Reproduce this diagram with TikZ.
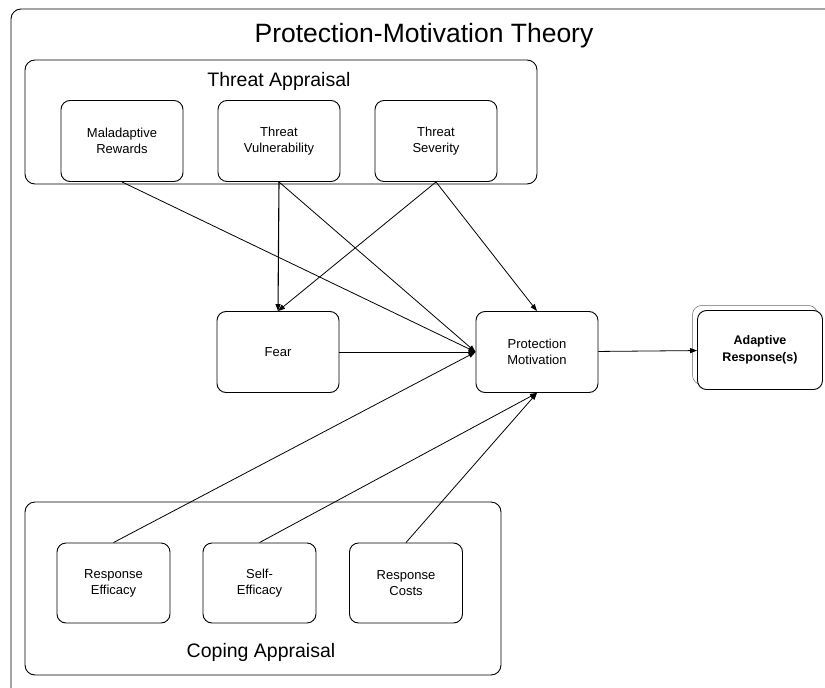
\documentclass[tikz,border=0pt]{standalone}
\usepackage{fontspec}
\setmainfont{Liberation Sans}
\usetikzlibrary{arrows.meta,positioning}

\begin{document}
\begin{tikzpicture}[x=1pt,y=-1pt,
    every node/.style={font=\fontsize{13}{16}\selectfont},
    panel/.style={draw,rounded corners=10pt,line width=0.9pt},
    factor/.style={draw,rounded corners=9pt,line width=0.9pt,align=center,
      minimum width=122pt,minimum height=81pt,inner sep=2pt},
    coping/.style={factor,minimum width=113pt,minimum height=80pt},
    link/.style={-{Triangle[length=7pt,width=5pt]},line width=0.8pt}]

  \useasboundingbox (0,0) rectangle (825,688);

  %% Outer frame and title
  \draw[rounded corners=10pt,line width=0.9pt] (11,720) -- (11,9) -- (860,9);
  \node[font=\fontsize{26.5}{30}\selectfont] (title) at (424,36) {Protection-Motivation Theory};

  %% Threat appraisal
  \node[panel,minimum width=512pt,minimum height=124pt] (threat) at (281,122) {};
  \node[font=\fontsize{19.5}{23}\selectfont] (threatlbl) at (279,81) {Threat Appraisal};
  \node[factor] (malad) at (122,141) {Maladaptive\\Rewards};
  \node[factor] (vuln)  at (279,141) {Threat\\Vulnerability};
  \node[factor] (sev)   at (436,141) {Threat\\Severity};

  %% Middle row
  \node[factor] (fear)    at (278,352) {Fear};
  \node[factor] (protect) at (537,352) {Protection\\Motivation};
  \node[factor,draw=black!60,line width=0.5pt,minimum width=125pt,minimum height=79pt] (adaptbk) at (755,345) {};
  \node[factor,fill=white,minimum width=125pt,minimum height=79pt,font=\fontsize{12.5}{16.5}\selectfont\bfseries] (adapt) at (760,350) {Adaptive\\Response(s)};

  %% Coping appraisal
  \node[panel,minimum width=476pt,minimum height=173pt] (cope) at (263,588.5) {};
  \node[font=\fontsize{19.5}{23}\selectfont] (copelbl) at (261,652) {Coping Appraisal};
  \node[coping] (reseff)  at (113.5,583) {Response\\Efficacy};
  \node[coping] (selfeff) at (259.5,583) {Self-\\Efficacy};
  \node[coping] (rescost) at (406,583) {Response\\Costs};

  %% Connectors
  \draw[link,line width=1.1pt] (vuln.south) -- (fear.north);
  \draw[link] (sev.south) -- (fear.north);
  \draw[link] (sev.south) -- (protect.north);
  \draw[link] (malad.south) -- (protect.west);
  \draw[link] (vuln.south) -- (protect.west);
  \draw[link] (fear) -- (protect);
  \draw[link] (reseff.north) -- (protect.west);
  \draw[link] (selfeff.north) -- (protect.south);
  \draw[link] (rescost.north) -- (protect.south);
  \draw[link] (protect) -- (adapt);
\end{tikzpicture}
\end{document}
